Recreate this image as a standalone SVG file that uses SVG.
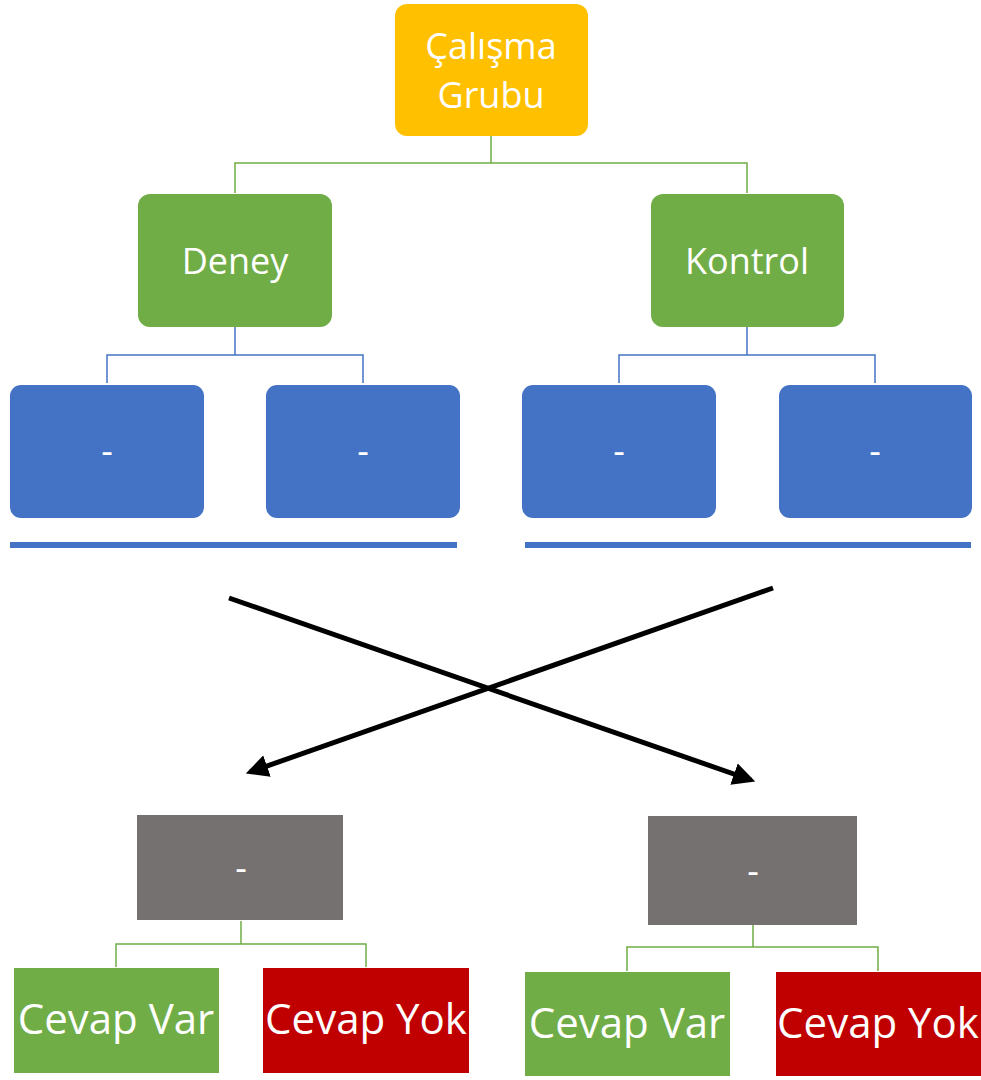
<svg xmlns="http://www.w3.org/2000/svg" width="981" height="1080" viewBox="0 0 981 1080">
  <style>
    .lbl { font-family: "Open Sans", "Noto Sans", sans-serif; fill: #ffffff; text-anchor: middle; }
    .big { font-size: 42px; }
    .mid { font-size: 36px; }
    .gl { fill: none; stroke: #70AD47; stroke-width: 1.5; }
    .bl { fill: none; stroke: #4472C4; stroke-width: 1.5; }
    .cross { fill: none; stroke: #000000; stroke-width: 5; }
    .green { fill: #70AD47; }
    .blue { fill: #4472C4; }
    .gray { fill: #767171; }
    .red { fill: #C00000; }
  </style>
  <defs>
    <marker id="arrow" viewBox="0 0 10 10" refX="8" refY="5" markerWidth="4.5" markerHeight="4.5" orient="auto" markerUnits="strokeWidth">
      <path d="M0,0 L10,5 L0,10 z" fill="#000000"/>
    </marker>
  </defs>
  <rect width="981" height="1080" fill="#ffffff"/>

  <g id="connectors">
    <path class="gl" d="M491,136 V163 M235,193 V163 H747 V193"/>
    <path class="bl" d="M235,327 V355 M107,383 V355 H363 V383"/>
    <path class="bl" d="M747,327 V355 M619,383 V355 H875 V383"/>
    <path class="gl" d="M241,921 V944 M116,967 V944 H366 V967"/>
    <path class="gl" d="M753,925 V947 M627,971 V947 H878 V971"/>
    <line class="cross" x1="229" y1="598" x2="751" y2="780" marker-end="url(#arrow)"/>
    <line class="cross" x1="773" y1="588" x2="250" y2="772" marker-end="url(#arrow)"/>
  </g>

  <g id="calisma-grubu">
    <rect x="395" y="4" width="193" height="132" rx="12" fill="#FFC000"/>
    <text class="lbl mid" x="491" y="59">Çalışma</text>
    <text class="lbl mid" x="491" y="108">Grubu</text>
  </g>

  <g id="deney">
    <rect class="green" x="138" y="194" width="194" height="133" rx="12"/>
    <text class="lbl mid" x="235" y="274">Deney</text>
  </g>
  <g id="kontrol">
    <rect class="green" x="651" y="194" width="193" height="133" rx="12"/>
    <text class="lbl mid" x="747" y="274">Kontrol</text>
  </g>

  <g id="deney-a">
    <rect class="blue" x="10" y="385" width="194" height="133" rx="11"/>
    <text class="lbl mid" x="107" y="464">-</text>
  </g>
  <g id="deney-b">
    <rect class="blue" x="266" y="385" width="194" height="133" rx="11"/>
    <text class="lbl mid" x="363" y="464">-</text>
  </g>
  <g id="kontrol-a">
    <rect class="blue" x="522" y="385" width="194" height="133" rx="11"/>
    <text class="lbl mid" x="619" y="464">-</text>
  </g>
  <g id="kontrol-b">
    <rect class="blue" x="779" y="385" width="193" height="133" rx="11"/>
    <text class="lbl mid" x="875" y="464">-</text>
  </g>

  <g id="bars">
    <rect class="blue" x="10" y="542" width="447" height="6"/>
    <rect class="blue" x="525" y="542" width="446" height="6"/>
  </g>

  <g id="sonuc-sol">
    <rect class="gray" x="137" y="815" width="206" height="105"/>
    <text class="lbl mid" x="241" y="881">-</text>
  </g>
  <g id="sonuc-sag">
    <rect class="gray" x="648" y="816" width="209" height="109"/>
    <text class="lbl mid" x="753" y="884">-</text>
  </g>

  <g id="cevap-var-sol">
    <rect class="green" x="14" y="968" width="205" height="105"/>
    <text class="lbl big" x="116" y="1034">Cevap Var</text>
  </g>
  <g id="cevap-yok-sol">
    <rect class="red" x="263" y="968" width="206" height="105"/>
    <text class="lbl big" x="366" y="1034">Cevap Yok</text>
  </g>
  <g id="cevap-var-sag">
    <rect class="green" x="525" y="972" width="205" height="104"/>
    <text class="lbl big" x="627" y="1038">Cevap Var</text>
  </g>
  <g id="cevap-yok-sag">
    <rect class="red" x="776" y="972" width="205" height="104"/>
    <text class="lbl big" x="878" y="1038">Cevap Yok</text>
  </g>
</svg>
